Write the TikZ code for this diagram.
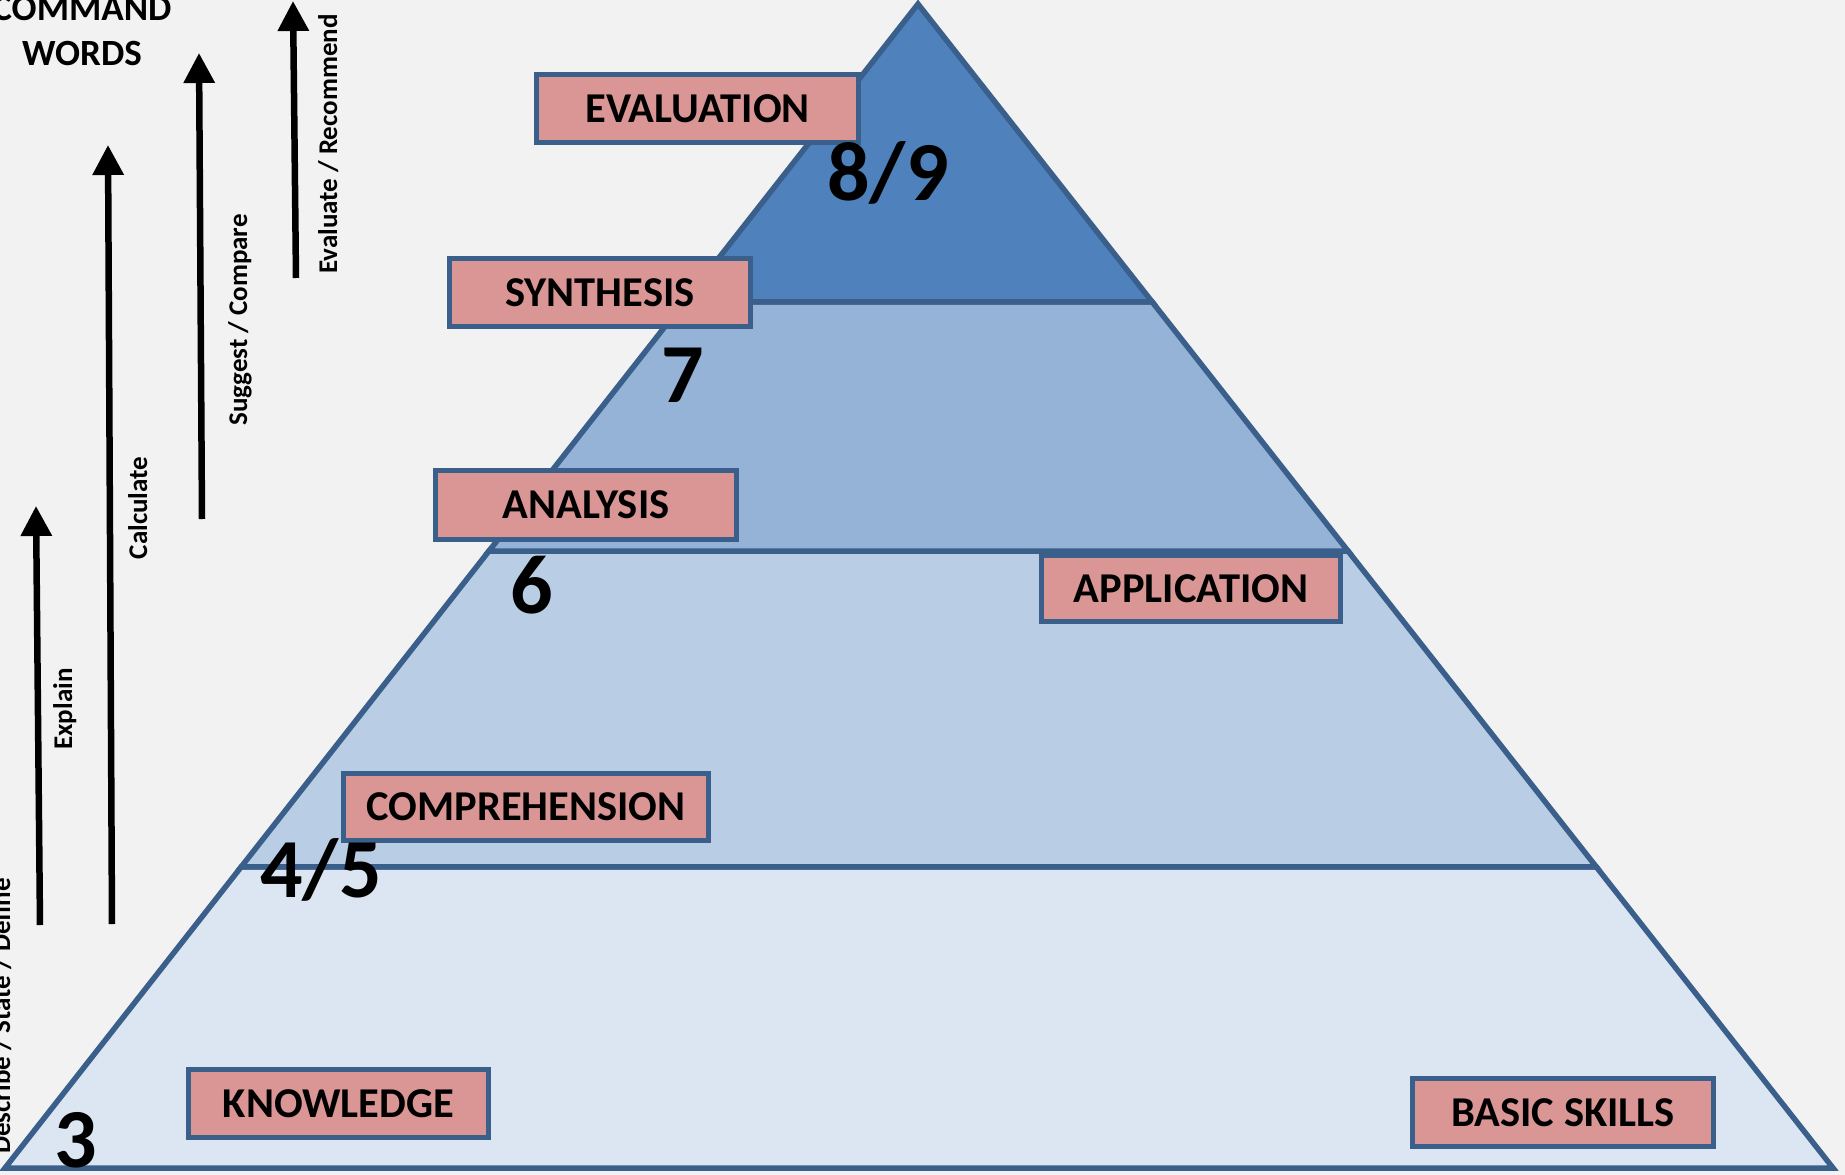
\documentclass[tikz,border=0pt]{standalone}
\usepackage{fontspec}
\setmainfont{Carlito}
\usetikzlibrary{positioning, calc, arrows.meta}

\definecolor{pagebg}{HTML}{F2F2F2}
\definecolor{pyrline}{HTML}{3A5F8B}
\definecolor{bandA}{HTML}{4F81BD}
\definecolor{bandB}{HTML}{95B3D7}
\definecolor{bandC}{HTML}{B9CDE5}
\definecolor{bandD}{HTML}{DCE6F2}
\definecolor{boxred}{HTML}{D99694}

\begin{document}
\begin{tikzpicture}[x=1pt, y=-1pt,
    level/.style={draw=pyrline, line width=5.5pt},
    lvlbox/.style={draw=pyrline, fill=boxred, line width=5pt, minimum height=68pt, inner sep=0pt, font=\bfseries\fontsize{42.5}{44}\selectfont},
    grade/.style={anchor=base, inner sep=0pt, font=\bfseries\fontsize{84}{90}\selectfont},
    cmdword/.style={rotate=90, anchor=base, inner sep=0pt, font=\bfseries\fontsize{27}{29}\selectfont},
    cmdarrow/.style={line width=6.5pt, -{Triangle[length=30pt, width=30pt]}}]

    \fill[pagebg] (0,0) rectangle (1845,1175);
    \useasboundingbox (0,0) rectangle (1845,1175);

    % pyramid corners
    \coordinate (apex) at (918,4);
    \coordinate (bl) at (5,1168);
    \coordinate (br) at (1833,1168);
    \coordinate (l1) at ($(apex)!0.256!(bl)$);
    \coordinate (r1) at ($(apex)!0.256!(br)$);
    \coordinate (l2) at ($(apex)!0.470!(bl)$);
    \coordinate (r2) at ($(apex)!0.470!(br)$);
    \coordinate (l3) at ($(apex)!0.7414!(bl)$);
    \coordinate (r3) at ($(apex)!0.7414!(br)$);

    % Draw bands
    \draw[level, fill=bandD] (l3) -- (r3) -- (br) -- (bl) -- cycle;
    \draw[level, fill=bandC] (l2) -- (r2) -- (r3) -- (l3) -- cycle;
    \draw[level, fill=bandB] (l1) -- (r1) -- (r2) -- (l2) -- cycle;
    \draw[level, fill=bandA] (apex) -- (r1) -- (l1) -- cycle;

    % levels
    \node[lvlbox, minimum width=322pt] (evaluation) at (697.5,108.5) {EVALUATION};
    \node[lvlbox, minimum width=301pt] (synthesis) at (600,292.5) {SYNTHESIS};
    \node[lvlbox, minimum width=301pt, minimum height=69pt] (analysis) at (586,505) {ANALYSIS};
    \node[lvlbox, minimum width=299pt, minimum height=66pt] (application) at (1191,588.5) {APPLICATION};
    \node[lvlbox, minimum width=365pt, minimum height=67pt] (comprehension) at (526,807) {COMPREHENSION};
    \node[lvlbox, minimum width=300pt] (knowledge) at (338.5,1103.5) {KNOWLEDGE};
    \node[lvlbox, minimum width=301pt] (basic) at (1563,1112.5) {BASIC SKILLS};

    % grades
    \node[grade] (g89) at (888,200) {8/9};
    \node[grade] (g7) at (683,402) {7};
    \node[grade] (g6) at (532,613) {6};
    \node[grade] (g45) at (321,897) {4/5};
    \node[grade] (g3) at (76,1167) {3};

    % command words
    \node[align=center, inner sep=0pt, font=\bfseries\fontsize{37}{45}\selectfont] (title) at (82,31) {COMMAND\\WORDS};

    \coordinate (dsc-s) at (40,925);
    \coordinate (dsc-e) at (36,506);
    \coordinate (clc-s) at (112,924);
    \coordinate (clc-e) at (108,145);
    \coordinate (sug-s) at (202,519);
    \coordinate (sug-e) at (199,53);
    \coordinate (evl-s) at (296,278);
    \coordinate (evl-e) at (293,1);

    \draw[cmdarrow] (dsc-s) -- (dsc-e);
    \draw[cmdarrow] (clc-s) -- (clc-e);
    \draw[cmdarrow] (sug-s) -- (sug-e);
    \draw[cmdarrow] (evl-s) -- (evl-e);

    \node[cmdword] (describe) at (10,1016) {Describe / State / Define};
    \node[cmdword] (explain) at (72,709) {Explain};
    \node[cmdword] (calculate) at (147,508) {Calculate};
    \node[cmdword] (suggest) at (247,320) {Suggest / Compare};
    \node[cmdword] (evaluate) at (337,144) {Evaluate / Recommend};

\end{tikzpicture}
\end{document}
